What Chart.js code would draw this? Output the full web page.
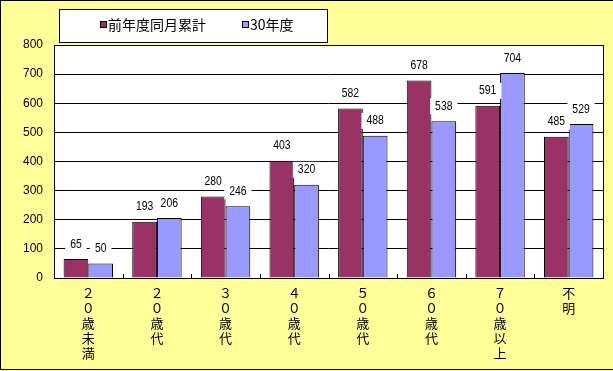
<!DOCTYPE html>
<html>
<head>
<meta charset="utf-8">
<script src="https://cdn.jsdelivr.net/npm/chart.js@4/dist/chart.umd.min.js"></script>
<style>
  html, body { margin: 0; padding: 0; background: #FFFF99; }
  #wrap { width: 613px; height: 371px; position: relative; }
</style>
</head>
<body>
<div id="wrap"><canvas id="c" width="613" height="371"></canvas></div>
<script>
// 年代別件数：前年度同月累計と30年度
const categorias = [
  ['２', '０', '歳', '未', '満'],
  ['２', '０', '歳', '代'],
  ['３', '０', '歳', '代'],
  ['４', '０', '歳', '代'],
  ['５', '０', '歳', '代'],
  ['６', '０', '歳', '代'],
  ['７', '０', '歳', '以', '上'],
  ['不', '明'],
];
const serieAnterior = [65, 193, 280, 403, 582, 678, 591, 485];
const serieAtual = [50, 206, 246, 320, 488, 538, 704, 529];
const rotulos = ['前年度同月累計', '30年度'];
const CORES = ['#993366', '#9999FF'];

const FONTE_NUM = '"Liberation Sans", Arial, sans-serif';
const FONTE_JP = '"Noto Sans CJK JP", sans-serif';

// Moldura, legenda em caixa, marcas do eixo x e rótulos de dados
const extras = {
  id: 'extras',
  beforeDraw(chart) {
    const { ctx, chartArea: a } = chart;
    ctx.save();
    ctx.fillStyle = '#FFFF99';
    ctx.fillRect(0, 0, chart.width, chart.height);
    ctx.fillStyle = '#FFFFFF';
    ctx.fillRect(a.left, a.top, a.right - a.left, a.bottom - a.top);
    ctx.restore();
  },
  afterDatasetsDraw(chart) {
    const { ctx, chartArea: a } = chart;
    ctx.save();
    // moldura da área do gráfico
    ctx.strokeStyle = '#000';
    ctx.lineWidth = 1;
    ctx.strokeRect(Math.round(a.left) + 0.5, Math.round(a.top) + 0.5, Math.round(a.right - a.left), Math.round(a.bottom - a.top));
    // marcas do eixo x entre categorias (para dentro)
    const larg = (a.right - a.left) / categorias.length;
    for (let i = 1; i < categorias.length; i++) {
      const px = Math.round(a.left + larg * i) + 0.5;
      ctx.beginPath();
      ctx.moveTo(px, a.bottom);
      ctx.lineTo(px, a.bottom - 4);
      ctx.stroke();
    }
    // rótulos de dados com fundo branco (texto estreitado)
    ctx.font = '13px ' + FONTE_NUM;
    ctx.textAlign = 'center';
    ctx.textBaseline = 'middle';
    chart.data.datasets.forEach((ds, di) => {
      chart.getDatasetMeta(di).data.forEach((bar, i) => {
        const txt = String(ds.data[i]);
        const w = ctx.measureText(txt).width * 0.8 + 10;
        const cy = bar.y - 15;
        ctx.fillStyle = '#FFFFFF';
        ctx.fillRect(bar.x - w / 2, cy - 8, w, 16);
        ctx.fillStyle = '#000';
        ctx.save();
        ctx.translate(bar.x, cy);
        ctx.scale(0.8, 1);
        ctx.fillText(txt, 0, 0);
        ctx.restore();
      });
    });
    // borda externa
    ctx.strokeRect(0.5, 0.5, chart.width + 10, 369);
    // legenda
    ctx.fillStyle = '#FFFFFF';
    ctx.fillRect(59.5, 9.5, 268, 33);
    ctx.strokeRect(59.5, 9.5, 268, 33);
    ctx.font = '14px ' + FONTE_JP;
    ctx.textAlign = 'left';
    const posicoes = [100, 242];
    chart.data.datasets.forEach((ds, di) => {
      const px = posicoes[di];
      ctx.fillStyle = ds.backgroundColor;
      ctx.fillRect(px + 0.5, 21.5, 6, 6);
      ctx.strokeStyle = '#000';
      ctx.strokeRect(px + 0.5, 21.5, 6, 6);
      ctx.fillStyle = '#000';
      ctx.fillText(ds.label, px + 8, 25);
    });
    ctx.restore();
  },
};

new Chart(document.getElementById('c'), {
  type: 'bar',
  data: {
    labels: categorias,
    datasets: [
      { label: rotulos[0], data: serieAnterior, backgroundColor: CORES[0], borderColor: '#000', borderWidth: 1 },
      { label: rotulos[1], data: serieAtual, backgroundColor: CORES[1], borderColor: '#000', borderWidth: 1 },
    ],
  },
  options: {
    responsive: false, animation: false,
    devicePixelRatio: 1,
    layout: { padding: { left: 0, top: 45, right: 10, bottom: 0 } },
    datasets: { bar: { categoryPercentage: 0.72, barPercentage: 1 } },
    plugins: { legend: { display: false }, tooltip: { enabled: false } },
    scales: {
      x: {
        grid: { display: false, drawTicks: false },
        border: { display: false },
        afterFit: (s) => { s.height = 93; },
        ticks: {
          color: '#000', padding: 8, maxRotation: 0, autoSkip: false,
          font: { family: FONTE_JP, size: 13, lineHeight: 1.15 },
        },
      },
      y: {
        min: 0, max: 800,
        afterFit: (s) => { s.width = 54; },
        grid: { color: '#000', drawTicks: false },
        border: { display: false },
        ticks: {
          stepSize: 100, color: '#000', padding: 11,
          font: { family: FONTE_NUM, size: 12 },
        },
      },
    },
  },
  plugins: [extras],
});
</script>
</body>
</html>
